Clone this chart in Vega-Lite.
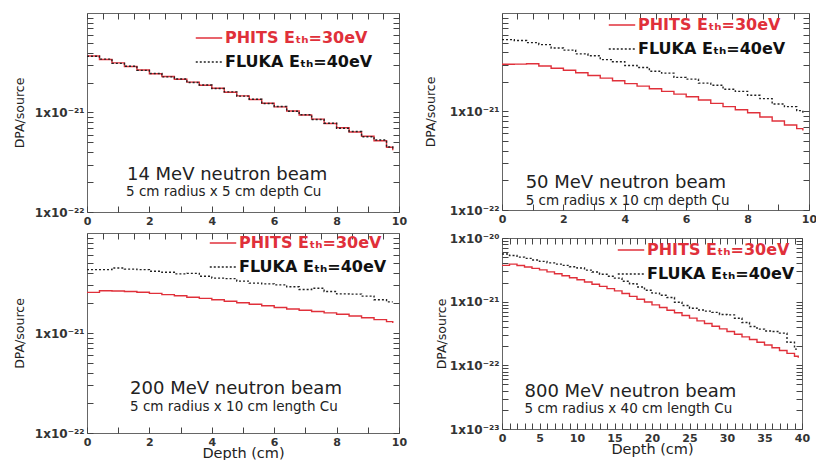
{
  "$schema": "https://vega.github.io/schema/vega-lite/v6.json",
  "padding": {"left": 12, "top": 10, "right": 0, "bottom": 0},
  "background": "white",
  "config": {
    "font": "DejaVu Sans",
    "view": {"stroke": "#666", "strokeWidth": 1},
    "axis": {"domain": false, "grid": false, "tickColor": "#444", "tickWidth": 1, "tickSize": 6, "offset": -6, "labelPadding": 3, "labelColor": "#333", "labelFont": "DejaVu Sans", "labelFontWeight": "bold", "labelFontSize": 11, "labelFlush": false, "labelOverlap": false, "titleFont": "DejaVu Sans", "titleFontWeight": "normal", "titleColor": "#222"},
    "legend": {"orient": "none", "symbolType": "stroke", "symbolSize": 700, "symbolStrokeWidth": 1.5, "labelFont": "DejaVu Sans", "labelFontSize": 16, "labelFontWeight": "bold", "labelOffset": 2, "rowPadding": 2, "padding": 0},
    "text": {"font": "DejaVu Sans", "color": "#222"}
  },
  "datasets": {
    "p14": [
      {"series": "PHITS", "depth": 0, "dpa": 3.70e-21}, {"series": "PHITS", "depth": 0.4, "dpa": 3.41e-21}, {"series": "PHITS", "depth": 0.8, "dpa": 3.15e-21}, {"series": "PHITS", "depth": 1.2, "dpa": 2.90e-21}, {"series": "PHITS", "depth": 1.6, "dpa": 2.67e-21}, {"series": "PHITS", "depth": 2.0, "dpa": 2.45e-21}, {"series": "PHITS", "depth": 2.4, "dpa": 2.30e-21}, {"series": "PHITS", "depth": 2.8, "dpa": 2.16e-21}, {"series": "PHITS", "depth": 3.2, "dpa": 2.02e-21}, {"series": "PHITS", "depth": 3.6, "dpa": 1.88e-21}, {"series": "PHITS", "depth": 4.0, "dpa": 1.75e-21}, {"series": "PHITS", "depth": 4.4, "dpa": 1.60e-21}, {"series": "PHITS", "depth": 4.8, "dpa": 1.47e-21}, {"series": "PHITS", "depth": 5.2, "dpa": 1.35e-21}, {"series": "PHITS", "depth": 5.6, "dpa": 1.24e-21}, {"series": "PHITS", "depth": 6.0, "dpa": 1.14e-21}, {"series": "PHITS", "depth": 6.4, "dpa": 1.035e-21}, {"series": "PHITS", "depth": 6.8, "dpa": 9.44e-22}, {"series": "PHITS", "depth": 7.2, "dpa": 8.57e-22}, {"series": "PHITS", "depth": 7.6, "dpa": 7.76e-22}, {"series": "PHITS", "depth": 8.0, "dpa": 7.03e-22}, {"series": "PHITS", "depth": 8.4, "dpa": 6.37e-22}, {"series": "PHITS", "depth": 8.8, "dpa": 5.77e-22}, {"series": "PHITS", "depth": 9.2, "dpa": 5.20e-22}, {"series": "PHITS", "depth": 9.6, "dpa": 4.47e-22}, {"series": "PHITS", "depth": 9.8, "dpa": 4.17e-22},
      {"series": "FLUKA", "depth": 0, "dpa": 3.68e-21}, {"series": "FLUKA", "depth": 0.4, "dpa": 3.44e-21}, {"series": "FLUKA", "depth": 0.8, "dpa": 3.12e-21}, {"series": "FLUKA", "depth": 1.2, "dpa": 2.92e-21}, {"series": "FLUKA", "depth": 1.6, "dpa": 2.65e-21}, {"series": "FLUKA", "depth": 2.0, "dpa": 2.47e-21}, {"series": "FLUKA", "depth": 2.4, "dpa": 2.28e-21}, {"series": "FLUKA", "depth": 2.8, "dpa": 2.17e-21}, {"series": "FLUKA", "depth": 3.2, "dpa": 2.00e-21}, {"series": "FLUKA", "depth": 3.6, "dpa": 1.89e-21}, {"series": "FLUKA", "depth": 4.0, "dpa": 1.74e-21}, {"series": "FLUKA", "depth": 4.4, "dpa": 1.61e-21}, {"series": "FLUKA", "depth": 4.8, "dpa": 1.46e-21}, {"series": "FLUKA", "depth": 5.2, "dpa": 1.36e-21}, {"series": "FLUKA", "depth": 5.6, "dpa": 1.23e-21}, {"series": "FLUKA", "depth": 6.0, "dpa": 1.15e-21}, {"series": "FLUKA", "depth": 6.4, "dpa": 1.03e-21}, {"series": "FLUKA", "depth": 6.8, "dpa": 9.5e-22}, {"series": "FLUKA", "depth": 7.2, "dpa": 8.5e-22}, {"series": "FLUKA", "depth": 7.6, "dpa": 7.8e-22}, {"series": "FLUKA", "depth": 8.0, "dpa": 6.95e-22}, {"series": "FLUKA", "depth": 8.4, "dpa": 6.45e-22}, {"series": "FLUKA", "depth": 8.8, "dpa": 5.7e-22}, {"series": "FLUKA", "depth": 9.2, "dpa": 5.3e-22}, {"series": "FLUKA", "depth": 9.6, "dpa": 4.5e-22}, {"series": "FLUKA", "depth": 9.8, "dpa": 4.25e-22}
    ],
    "p50": [
      {"series": "PHITS", "depth": 0, "dpa": 3.02e-21}, {"series": "PHITS", "depth": 0.4, "dpa": 3.03e-21}, {"series": "PHITS", "depth": 0.8, "dpa": 3.05e-21}, {"series": "PHITS", "depth": 1.2, "dpa": 2.90e-21}, {"series": "PHITS", "depth": 1.6, "dpa": 2.75e-21}, {"series": "PHITS", "depth": 2.0, "dpa": 2.62e-21}, {"series": "PHITS", "depth": 2.4, "dpa": 2.47e-21}, {"series": "PHITS", "depth": 2.8, "dpa": 2.32e-21}, {"series": "PHITS", "depth": 3.2, "dpa": 2.18e-21}, {"series": "PHITS", "depth": 3.6, "dpa": 2.05e-21}, {"series": "PHITS", "depth": 4.0, "dpa": 1.92e-21}, {"series": "PHITS", "depth": 4.4, "dpa": 1.81e-21}, {"series": "PHITS", "depth": 4.8, "dpa": 1.70e-21}, {"series": "PHITS", "depth": 5.2, "dpa": 1.60e-21}, {"series": "PHITS", "depth": 5.6, "dpa": 1.50e-21}, {"series": "PHITS", "depth": 6.0, "dpa": 1.41e-21}, {"series": "PHITS", "depth": 6.4, "dpa": 1.31e-21}, {"series": "PHITS", "depth": 6.8, "dpa": 1.21e-21}, {"series": "PHITS", "depth": 7.2, "dpa": 1.12e-21}, {"series": "PHITS", "depth": 7.6, "dpa": 1.04e-21}, {"series": "PHITS", "depth": 8.0, "dpa": 9.7e-22}, {"series": "PHITS", "depth": 8.4, "dpa": 8.8e-22}, {"series": "PHITS", "depth": 8.8, "dpa": 8.0e-22}, {"series": "PHITS", "depth": 9.2, "dpa": 7.3e-22}, {"series": "PHITS", "depth": 9.6, "dpa": 6.7e-22}, {"series": "PHITS", "depth": 9.8, "dpa": 6.4e-22},
      {"series": "FLUKA", "depth": 0, "dpa": 5.37e-21}, {"series": "FLUKA", "depth": 0.4, "dpa": 5.25e-21}, {"series": "FLUKA", "depth": 0.8, "dpa": 5.0e-21}, {"series": "FLUKA", "depth": 1.2, "dpa": 4.78e-21}, {"series": "FLUKA", "depth": 1.6, "dpa": 4.42e-21}, {"series": "FLUKA", "depth": 2.0, "dpa": 4.2e-21}, {"series": "FLUKA", "depth": 2.4, "dpa": 3.85e-21}, {"series": "FLUKA", "depth": 2.8, "dpa": 3.68e-21}, {"series": "FLUKA", "depth": 3.2, "dpa": 3.36e-21}, {"series": "FLUKA", "depth": 3.6, "dpa": 3.2e-21}, {"series": "FLUKA", "depth": 4.0, "dpa": 2.93e-21}, {"series": "FLUKA", "depth": 4.4, "dpa": 2.8e-21}, {"series": "FLUKA", "depth": 4.8, "dpa": 2.56e-21}, {"series": "FLUKA", "depth": 5.2, "dpa": 2.45e-21}, {"series": "FLUKA", "depth": 5.6, "dpa": 2.22e-21}, {"series": "FLUKA", "depth": 6.0, "dpa": 2.13e-21}, {"series": "FLUKA", "depth": 6.4, "dpa": 1.94e-21}, {"series": "FLUKA", "depth": 6.8, "dpa": 1.85e-21}, {"series": "FLUKA", "depth": 7.2, "dpa": 1.68e-21}, {"series": "FLUKA", "depth": 7.6, "dpa": 1.6e-21}, {"series": "FLUKA", "depth": 8.0, "dpa": 1.46e-21}, {"series": "FLUKA", "depth": 8.4, "dpa": 1.35e-21}, {"series": "FLUKA", "depth": 8.8, "dpa": 1.19e-21}, {"series": "FLUKA", "depth": 9.2, "dpa": 1.12e-21}, {"series": "FLUKA", "depth": 9.6, "dpa": 1.02e-21}, {"series": "FLUKA", "depth": 9.8, "dpa": 9.5e-22}
    ],
    "p200": [
      {"series": "PHITS", "depth": 0, "dpa": 2.55e-21}, {"series": "PHITS", "depth": 0.4, "dpa": 2.65e-21}, {"series": "PHITS", "depth": 0.8, "dpa": 2.63e-21}, {"series": "PHITS", "depth": 1.2, "dpa": 2.6e-21}, {"series": "PHITS", "depth": 1.6, "dpa": 2.56e-21}, {"series": "PHITS", "depth": 2.0, "dpa": 2.49e-21}, {"series": "PHITS", "depth": 2.4, "dpa": 2.42e-21}, {"series": "PHITS", "depth": 2.8, "dpa": 2.36e-21}, {"series": "PHITS", "depth": 3.2, "dpa": 2.28e-21}, {"series": "PHITS", "depth": 3.6, "dpa": 2.22e-21}, {"series": "PHITS", "depth": 4.0, "dpa": 2.15e-21}, {"series": "PHITS", "depth": 4.4, "dpa": 2.08e-21}, {"series": "PHITS", "depth": 4.8, "dpa": 2.01e-21}, {"series": "PHITS", "depth": 5.2, "dpa": 1.94e-21}, {"series": "PHITS", "depth": 5.6, "dpa": 1.87e-21}, {"series": "PHITS", "depth": 6.0, "dpa": 1.80e-21}, {"series": "PHITS", "depth": 6.4, "dpa": 1.74e-21}, {"series": "PHITS", "depth": 6.8, "dpa": 1.69e-21}, {"series": "PHITS", "depth": 7.2, "dpa": 1.64e-21}, {"series": "PHITS", "depth": 7.6, "dpa": 1.59e-21}, {"series": "PHITS", "depth": 8.0, "dpa": 1.54e-21}, {"series": "PHITS", "depth": 8.4, "dpa": 1.48e-21}, {"series": "PHITS", "depth": 8.8, "dpa": 1.42e-21}, {"series": "PHITS", "depth": 9.2, "dpa": 1.36e-21}, {"series": "PHITS", "depth": 9.6, "dpa": 1.30e-21}, {"series": "PHITS", "depth": 9.8, "dpa": 1.26e-21},
      {"series": "FLUKA", "depth": 0, "dpa": 4.3e-21}, {"series": "FLUKA", "depth": 0.4, "dpa": 4.3e-21}, {"series": "FLUKA", "depth": 0.8, "dpa": 4.47e-21}, {"series": "FLUKA", "depth": 1.2, "dpa": 4.35e-21}, {"series": "FLUKA", "depth": 1.6, "dpa": 4.3e-21}, {"series": "FLUKA", "depth": 2.0, "dpa": 4.14e-21}, {"series": "FLUKA", "depth": 2.4, "dpa": 4.05e-21}, {"series": "FLUKA", "depth": 2.8, "dpa": 3.9e-21}, {"series": "FLUKA", "depth": 3.2, "dpa": 3.95e-21}, {"series": "FLUKA", "depth": 3.6, "dpa": 3.7e-21}, {"series": "FLUKA", "depth": 4.0, "dpa": 3.54e-21}, {"series": "FLUKA", "depth": 4.4, "dpa": 3.5e-21}, {"series": "FLUKA", "depth": 4.8, "dpa": 3.3e-21}, {"series": "FLUKA", "depth": 5.2, "dpa": 3.15e-21}, {"series": "FLUKA", "depth": 5.6, "dpa": 3.1e-21}, {"series": "FLUKA", "depth": 6.0, "dpa": 3.03e-21}, {"series": "FLUKA", "depth": 6.4, "dpa": 2.9e-21}, {"series": "FLUKA", "depth": 6.8, "dpa": 2.72e-21}, {"series": "FLUKA", "depth": 7.2, "dpa": 2.8e-21}, {"series": "FLUKA", "depth": 7.6, "dpa": 2.6e-21}, {"series": "FLUKA", "depth": 8.0, "dpa": 2.46e-21}, {"series": "FLUKA", "depth": 8.4, "dpa": 2.45e-21}, {"series": "FLUKA", "depth": 8.8, "dpa": 2.34e-21}, {"series": "FLUKA", "depth": 9.2, "dpa": 2.15e-21}, {"series": "FLUKA", "depth": 9.6, "dpa": 2.05e-21}, {"series": "FLUKA", "depth": 9.8, "dpa": 2.05e-21}
    ],
    "p800": [
      {"series": "PHITS", "depth": 0, "dpa": 3.72e-21}, {"series": "PHITS", "depth": 1, "dpa": 3.89e-21}, {"series": "PHITS", "depth": 2, "dpa": 3.69e-21}, {"series": "PHITS", "depth": 3, "dpa": 3.51e-21}, {"series": "PHITS", "depth": 4, "dpa": 3.33e-21}, {"series": "PHITS", "depth": 5, "dpa": 3.16e-21}, {"series": "PHITS", "depth": 6, "dpa": 2.94e-21}, {"series": "PHITS", "depth": 7, "dpa": 2.74e-21}, {"series": "PHITS", "depth": 8, "dpa": 2.55e-21}, {"series": "PHITS", "depth": 9, "dpa": 2.37e-21}, {"series": "PHITS", "depth": 10, "dpa": 2.21e-21}, {"series": "PHITS", "depth": 11, "dpa": 2.04e-21}, {"series": "PHITS", "depth": 12, "dpa": 1.88e-21}, {"series": "PHITS", "depth": 13, "dpa": 1.74e-21}, {"series": "PHITS", "depth": 14, "dpa": 1.60e-21}, {"series": "PHITS", "depth": 15, "dpa": 1.48e-21}, {"series": "PHITS", "depth": 16, "dpa": 1.34e-21}, {"series": "PHITS", "depth": 17, "dpa": 1.21e-21}, {"series": "PHITS", "depth": 18, "dpa": 1.09e-21}, {"series": "PHITS", "depth": 19, "dpa": 9.86e-22}, {"series": "PHITS", "depth": 20, "dpa": 8.91e-22}, {"series": "PHITS", "depth": 21, "dpa": 8.09e-22}, {"series": "PHITS", "depth": 22, "dpa": 7.35e-22}, {"series": "PHITS", "depth": 23, "dpa": 6.68e-22}, {"series": "PHITS", "depth": 24, "dpa": 6.07e-22}, {"series": "PHITS", "depth": 25, "dpa": 5.51e-22}, {"series": "PHITS", "depth": 26, "dpa": 5.0e-22}, {"series": "PHITS", "depth": 27, "dpa": 4.54e-22}, {"series": "PHITS", "depth": 28, "dpa": 4.12e-22}, {"series": "PHITS", "depth": 29, "dpa": 3.74e-22}, {"series": "PHITS", "depth": 30, "dpa": 3.40e-22}, {"series": "PHITS", "depth": 31, "dpa": 3.08e-22}, {"series": "PHITS", "depth": 32, "dpa": 2.80e-22}, {"series": "PHITS", "depth": 33, "dpa": 2.54e-22}, {"series": "PHITS", "depth": 34, "dpa": 2.31e-22}, {"series": "PHITS", "depth": 35, "dpa": 2.09e-22}, {"series": "PHITS", "depth": 36, "dpa": 1.89e-22}, {"series": "PHITS", "depth": 37, "dpa": 1.71e-22}, {"series": "PHITS", "depth": 38, "dpa": 1.54e-22}, {"series": "PHITS", "depth": 39, "dpa": 1.39e-22}, {"series": "PHITS", "depth": 39.5, "dpa": 1.32e-22},
      {"series": "FLUKA", "depth": 0, "dpa": 5.6e-21}, {"series": "FLUKA", "depth": 1, "dpa": 5.31e-21}, {"series": "FLUKA", "depth": 2, "dpa": 5.0e-21}, {"series": "FLUKA", "depth": 3, "dpa": 4.79e-21}, {"series": "FLUKA", "depth": 4, "dpa": 4.52e-21}, {"series": "FLUKA", "depth": 5, "dpa": 4.29e-21}, {"series": "FLUKA", "depth": 6, "dpa": 4.07e-21}, {"series": "FLUKA", "depth": 7, "dpa": 3.89e-21}, {"series": "FLUKA", "depth": 8, "dpa": 3.72e-21}, {"series": "FLUKA", "depth": 9, "dpa": 3.53e-21}, {"series": "FLUKA", "depth": 10, "dpa": 3.37e-21}, {"series": "FLUKA", "depth": 11, "dpa": 3.13e-21}, {"series": "FLUKA", "depth": 12, "dpa": 2.92e-21}, {"series": "FLUKA", "depth": 13, "dpa": 2.69e-21}, {"series": "FLUKA", "depth": 14, "dpa": 2.51e-21}, {"series": "FLUKA", "depth": 15, "dpa": 2.34e-21}, {"series": "FLUKA", "depth": 16, "dpa": 2.09e-21}, {"series": "FLUKA", "depth": 17, "dpa": 1.91e-21}, {"series": "FLUKA", "depth": 18, "dpa": 1.70e-21}, {"series": "FLUKA", "depth": 19, "dpa": 1.51e-21}, {"series": "FLUKA", "depth": 20, "dpa": 1.36e-21}, {"series": "FLUKA", "depth": 21, "dpa": 1.26e-21}, {"series": "FLUKA", "depth": 22, "dpa": 1.16e-21}, {"series": "FLUKA", "depth": 23, "dpa": 9.8e-22}, {"series": "FLUKA", "depth": 24, "dpa": 8.7e-22}, {"series": "FLUKA", "depth": 25, "dpa": 7.9e-22}, {"series": "FLUKA", "depth": 26, "dpa": 7.4e-22}, {"series": "FLUKA", "depth": 27, "dpa": 7.1e-22}, {"series": "FLUKA", "depth": 28, "dpa": 6.8e-22}, {"series": "FLUKA", "depth": 29, "dpa": 6.3e-22}, {"series": "FLUKA", "depth": 30, "dpa": 6.2e-22}, {"series": "FLUKA", "depth": 31, "dpa": 5.5e-22}, {"series": "FLUKA", "depth": 32, "dpa": 4.7e-22}, {"series": "FLUKA", "depth": 33, "dpa": 4.07e-22}, {"series": "FLUKA", "depth": 34, "dpa": 3.7e-22}, {"series": "FLUKA", "depth": 35, "dpa": 3.47e-22}, {"series": "FLUKA", "depth": 36, "dpa": 3.4e-22}, {"series": "FLUKA", "depth": 37, "dpa": 3.2e-22}, {"series": "FLUKA", "depth": 38, "dpa": 2.3e-22}, {"series": "FLUKA", "depth": 39, "dpa": 1.8e-22}, {"series": "FLUKA", "depth": 39.5, "dpa": 1.75e-22}
    ]
  },
  "spacing": 15,
  "resolve": {"scale": {"color": "independent", "strokeDash": "independent"}, "legend": {"color": "independent", "strokeDash": "independent"}},
  "hconcat": [
    {
      "spacing": 1,
      "resolve": {"scale": {"color": "independent", "strokeDash": "independent"}, "legend": {"color": "independent", "strokeDash": "independent"}},
      "vconcat": [
        {
          "width": 312, "height": 199,
          "resolve": {"axis": {"x": "independent", "y": "independent"}},
          "layer": [
            {
              "data": {"name": "p14"},
              "mark": {"type": "line", "interpolate": "step-after", "strokeWidth": 1.4},
              "encoding": {
                "x": {"field": "depth", "type": "quantitative", "scale": {"domain": [0, 10], "nice": false}, "axis": {"orient": "bottom", "title": null, "format": "d", "values": [0,0.5,1,1.5,2,2.5,3,3.5,4,4.5,5,5.5,6,6.5,7,7.5,8,8.5,9,9.5,10], "labelExpr": "datum.value % 2 == 0 ? datum.label : ''", "encode": {"ticks": {"update": {"y": {"signal": "datum.value % 2 == 0 ? 0 : 3"}}}}}},
                "y": {"field": "dpa", "type": "quantitative", "scale": {"type": "log", "domain": [1e-22, 1e-20], "nice": false}, "axis": {"orient": "left", "title": "DPA/source", "titleFontSize": 12.5, "titlePadding": 8, "labelFontSize": 12, "values": [1e-22,2e-22,3e-22,4e-22,5e-22,6e-22,7e-22,8e-22,9e-22,1e-21,2e-21,3e-21,4e-21,5e-21,6e-21,7e-21,8e-21,9e-21], "labelExpr": "datum.value == 1e-22 ? '1x10⁻²²' : datum.value == 1e-21 ? '1x10⁻²¹' : ''", "encode": {"ticks": {"update": {"x": {"signal": "(datum.value == 1e-22 || datum.value == 1e-21) ? 0 : -3"}}}}}},
                "color": {"field": "series", "type": "nominal", "scale": {"domain": ["PHITS", "FLUKA"], "range": ["#e0303a", "#222222"]}, "legend": {"title": null, "orient": "none", "legendX": 108, "legendY": 11, "labelExpr": "datum.value === 'PHITS' ? 'PHITS Eₜₕ=30eV' : 'FLUKA Eₜₕ=40eV'", "encode": {"labels": {"update": {"fill": {"signal": "datum.value === 'PHITS' ? '#e0303a' : '#111111'"}}}}}},
                "strokeDash": {"field": "series", "type": "nominal", "scale": {"domain": ["PHITS", "FLUKA"], "range": [[1, 0], [2, 2]]}, "legend": {"title": null, "orient": "none", "legendX": 108, "legendY": 11, "labelExpr": "datum.value === 'PHITS' ? 'PHITS Eₜₕ=30eV' : 'FLUKA Eₜₕ=40eV'", "encode": {"labels": {"update": {"fill": {"signal": "datum.value === 'PHITS' ? '#e0303a' : '#111111'"}}}}}}
              }
            },
            {
              "data": {"values": [{}]},
              "mark": {"type": "text", "align": "left", "baseline": "middle", "fontSize": 18},
              "encoding": {
                "x": {"datum": 1.28, "axis": {"orient": "top", "title": null, "labels": false, "minExtent": 0, "maxExtent": 0, "values": [0,0.5,1,1.5,2,2.5,3,3.5,4,4.5,5,5.5,6,6.5,7,7.5,8,8.5,9,9.5,10], "encode": {"ticks": {"update": {"y": {"signal": "datum.value % 2 == 0 ? 0 : -3"}}}}}},
                "y": {"datum": 2.35e-22, "axis": {"orient": "right", "title": null, "labels": false, "minExtent": 0, "maxExtent": 0, "values": [1e-22,2e-22,3e-22,4e-22,5e-22,6e-22,7e-22,8e-22,9e-22,1e-21,2e-21,3e-21,4e-21,5e-21,6e-21,7e-21,8e-21,9e-21], "encode": {"ticks": {"update": {"x": {"signal": "(datum.value == 1e-22 || datum.value == 1e-21) ? 0 : 3"}}}}}},
                "text": {"value": "14 MeV neutron beam"}
              }
            },
            {
              "data": {"values": [{}]},
              "mark": {"type": "text", "align": "left", "baseline": "middle", "fontSize": 13.5},
              "encoding": {
                "x": {"datum": 1.25, "axis": null},
                "y": {"datum": 1.6e-22, "axis": null},
                "text": {"value": "5 cm radius x 5 cm depth Cu"}
              }
            }
          ]
        },
        {
          "width": 312, "height": 200,
          "resolve": {"axis": {"x": "independent", "y": "independent"}},
          "layer": [
            {
              "data": {"name": "p200"},
              "mark": {"type": "line", "interpolate": "step-after", "strokeWidth": 1.4},
              "encoding": {
                "x": {"field": "depth", "type": "quantitative", "scale": {"domain": [0, 10], "nice": false}, "axis": {"orient": "bottom", "title": "Depth (cm)", "titleFontSize": 14.5, "titlePadding": -1, "format": "d", "values": [0,0.5,1,1.5,2,2.5,3,3.5,4,4.5,5,5.5,6,6.5,7,7.5,8,8.5,9,9.5,10], "labelExpr": "datum.value % 2 == 0 ? datum.label : ''", "encode": {"ticks": {"update": {"y": {"signal": "datum.value % 2 == 0 ? 0 : 3"}}}}}},
                "y": {"field": "dpa", "type": "quantitative", "scale": {"type": "log", "domain": [1e-22, 1e-20], "nice": false}, "axis": {"orient": "left", "title": "DPA/source", "titleFontSize": 12.5, "titlePadding": 8, "labelFontSize": 12, "values": [1e-22,2e-22,3e-22,4e-22,5e-22,6e-22,7e-22,8e-22,9e-22,1e-21,2e-21,3e-21,4e-21,5e-21,6e-21,7e-21,8e-21,9e-21], "labelExpr": "datum.value == 1e-22 ? '1x10⁻²²' : datum.value == 1e-21 ? '1x10⁻²¹' : ''", "encode": {"ticks": {"update": {"x": {"signal": "(datum.value == 1e-22 || datum.value == 1e-21) ? 0 : -3"}}}}}},
                "color": {"field": "series", "type": "nominal", "scale": {"domain": ["PHITS", "FLUKA"], "range": ["#e0303a", "#222222"]}, "legend": {"title": null, "orient": "none", "legendX": 122, "legendY": -4, "labelExpr": "datum.value === 'PHITS' ? 'PHITS Eₜₕ=30eV' : 'FLUKA Eₜₕ=40eV'", "encode": {"labels": {"update": {"fill": {"signal": "datum.value === 'PHITS' ? '#e0303a' : '#111111'"}}}}}},
                "strokeDash": {"field": "series", "type": "nominal", "scale": {"domain": ["PHITS", "FLUKA"], "range": [[1, 0], [2, 2]]}, "legend": {"title": null, "orient": "none", "legendX": 122, "legendY": -4, "labelExpr": "datum.value === 'PHITS' ? 'PHITS Eₜₕ=30eV' : 'FLUKA Eₜₕ=40eV'", "encode": {"labels": {"update": {"fill": {"signal": "datum.value === 'PHITS' ? '#e0303a' : '#111111'"}}}}}}
              }
            },
            {
              "data": {"values": [{}]},
              "mark": {"type": "text", "align": "left", "baseline": "middle", "fontSize": 18},
              "encoding": {
                "x": {"datum": 1.38, "axis": {"orient": "top", "title": null, "labels": false, "minExtent": 0, "maxExtent": 0, "values": [0,0.5,1,1.5,2,2.5,3,3.5,4,4.5,5,5.5,6,6.5,7,7.5,8,8.5,9,9.5,10], "encode": {"ticks": {"update": {"y": {"signal": "datum.value % 2 == 0 ? 0 : -3"}}}}}},
                "y": {"datum": 2.75e-22, "axis": {"orient": "right", "title": null, "labels": false, "minExtent": 0, "maxExtent": 0, "values": [1e-22,2e-22,3e-22,4e-22,5e-22,6e-22,7e-22,8e-22,9e-22,1e-21,2e-21,3e-21,4e-21,5e-21,6e-21,7e-21,8e-21,9e-21], "encode": {"ticks": {"update": {"x": {"signal": "(datum.value == 1e-22 || datum.value == 1e-21) ? 0 : 3"}}}}}},
                "text": {"value": "200 MeV neutron beam"}
              }
            },
            {
              "data": {"values": [{}]},
              "mark": {"type": "text", "align": "left", "baseline": "middle", "fontSize": 13.5},
              "encoding": {
                "x": {"datum": 1.38, "axis": null},
                "y": {"datum": 1.84e-22, "axis": null},
                "text": {"value": "5 cm radius x 10 cm length Cu"}
              }
            }
          ]
        }
      ]
    },
    {
      "spacing": 6,
      "resolve": {"scale": {"color": "independent", "strokeDash": "independent"}, "legend": {"color": "independent", "strokeDash": "independent"}},
      "vconcat": [
        {
          "width": 307, "height": 197,
          "resolve": {"axis": {"x": "independent", "y": "independent"}},
          "layer": [
            {
              "data": {"name": "p50"},
              "mark": {"type": "line", "interpolate": "step-after", "strokeWidth": 1.4},
              "encoding": {
                "x": {"field": "depth", "type": "quantitative", "scale": {"domain": [0, 10], "nice": false}, "axis": {"orient": "bottom", "title": null, "format": "d", "values": [0,0.5,1,1.5,2,2.5,3,3.5,4,4.5,5,5.5,6,6.5,7,7.5,8,8.5,9,9.5,10], "labelExpr": "datum.value % 2 == 0 ? datum.label : ''", "encode": {"ticks": {"update": {"y": {"signal": "datum.value % 2 == 0 ? 0 : 3"}}}}}},
                "y": {"field": "dpa", "type": "quantitative", "scale": {"type": "log", "domain": [1e-22, 1e-20], "nice": false}, "axis": {"orient": "left", "title": "DPA/source", "titleFontSize": 12.5, "titlePadding": 12, "labelFontSize": 12, "values": [1e-22,2e-22,3e-22,4e-22,5e-22,6e-22,7e-22,8e-22,9e-22,1e-21,2e-21,3e-21,4e-21,5e-21,6e-21,7e-21,8e-21,9e-21], "labelExpr": "datum.value == 1e-22 ? '1x10⁻²²' : datum.value == 1e-21 ? '1x10⁻²¹' : ''", "encode": {"ticks": {"update": {"x": {"signal": "(datum.value == 1e-22 || datum.value == 1e-21) ? 0 : -3"}}}}}},
                "color": {"field": "series", "type": "nominal", "scale": {"domain": ["PHITS", "FLUKA"], "range": ["#e0303a", "#222222"]}, "legend": {"title": null, "orient": "none", "legendX": 106, "legendY": -2, "labelExpr": "datum.value === 'PHITS' ? 'PHITS Eₜₕ=30eV' : 'FLUKA Eₜₕ=40eV'", "encode": {"labels": {"update": {"fill": {"signal": "datum.value === 'PHITS' ? '#e0303a' : '#111111'"}}}}}},
                "strokeDash": {"field": "series", "type": "nominal", "scale": {"domain": ["PHITS", "FLUKA"], "range": [[1, 0], [2, 2]]}, "legend": {"title": null, "orient": "none", "legendX": 106, "legendY": -2, "labelExpr": "datum.value === 'PHITS' ? 'PHITS Eₜₕ=30eV' : 'FLUKA Eₜₕ=40eV'", "encode": {"labels": {"update": {"fill": {"signal": "datum.value === 'PHITS' ? '#e0303a' : '#111111'"}}}}}}
              }
            },
            {
              "data": {"values": [{}]},
              "mark": {"type": "text", "align": "left", "baseline": "middle", "fontSize": 18},
              "encoding": {
                "x": {"datum": 0.77, "axis": {"orient": "top", "title": null, "labels": false, "minExtent": 0, "maxExtent": 0, "values": [0,0.5,1,1.5,2,2.5,3,3.5,4,4.5,5,5.5,6,6.5,7,7.5,8,8.5,9,9.5,10], "encode": {"ticks": {"update": {"y": {"signal": "datum.value % 2 == 0 ? 0 : -3"}}}}}},
                "y": {"datum": 1.88e-22, "axis": {"orient": "right", "title": null, "labels": false, "minExtent": 0, "maxExtent": 0, "values": [1e-22,2e-22,3e-22,4e-22,5e-22,6e-22,7e-22,8e-22,9e-22,1e-21,2e-21,3e-21,4e-21,5e-21,6e-21,7e-21,8e-21,9e-21], "encode": {"ticks": {"update": {"x": {"signal": "(datum.value == 1e-22 || datum.value == 1e-21) ? 0 : 3"}}}}}},
                "text": {"value": "50 MeV neutron beam"}
              }
            },
            {
              "data": {"values": [{}]},
              "mark": {"type": "text", "align": "left", "baseline": "middle", "fontSize": 13.5},
              "encoding": {
                "x": {"datum": 0.77, "axis": null},
                "y": {"datum": 1.24e-22, "axis": null},
                "text": {"value": "5 cm radius x 10 cm depth Cu"}
              }
            }
          ]
        },
        {
          "width": 300, "height": 191,
          "resolve": {"axis": {"x": "independent", "y": "independent"}},
          "layer": [
            {
              "data": {"name": "p800"},
              "mark": {"type": "line", "interpolate": "step-after", "strokeWidth": 1.4},
              "encoding": {
                "x": {"field": "depth", "type": "quantitative", "scale": {"domain": [0, 40], "nice": false}, "axis": {"orient": "bottom", "title": "Depth (cm)", "titleFontSize": 14.5, "titlePadding": -1, "format": "d", "values": [0,1,2,3,4,5,6,7,8,9,10,11,12,13,14,15,16,17,18,19,20,21,22,23,24,25,26,27,28,29,30,31,32,33,34,35,36,37,38,39,40], "labelExpr": "datum.value % 5 == 0 ? datum.label : ''", "encode": {"ticks": {"update": {"y": {"signal": "datum.value % 5 == 0 ? 0 : 3"}}}}}},
                "y": {"field": "dpa", "type": "quantitative", "scale": {"type": "log", "domain": [1e-23, 1e-20], "nice": false}, "axis": {"orient": "left", "title": "DPA/source", "titleFontSize": 12.5, "titlePadding": 1, "labelFontSize": 12, "values": [1e-23,2e-23,3e-23,4e-23,5e-23,6e-23,7e-23,8e-23,9e-23,1e-22,2e-22,3e-22,4e-22,5e-22,6e-22,7e-22,8e-22,9e-22,1e-21,2e-21,3e-21,4e-21,5e-21,6e-21,7e-21,8e-21,9e-21,1e-20], "labelExpr": "datum.value == 1e-23 ? '1x10⁻²³' : datum.value == 1e-22 ? '1x10⁻²²' : datum.value == 1e-21 ? '1x10⁻²¹' : datum.value == 1e-20 ? '1x10⁻²⁰' : ''", "encode": {"ticks": {"update": {"x": {"signal": "(datum.value == 1e-23 || datum.value == 1e-22 || datum.value == 1e-21 || datum.value == 1e-20) ? 0 : -3"}}}}}},
                "color": {"field": "series", "type": "nominal", "scale": {"domain": ["PHITS", "FLUKA"], "range": ["#e0303a", "#222222"]}, "legend": {"title": null, "orient": "none", "legendX": 115, "legendY": -2, "labelExpr": "datum.value === 'PHITS' ? 'PHITS Eₜₕ=30eV' : 'FLUKA Eₜₕ=40eV'", "encode": {"labels": {"update": {"fill": {"signal": "datum.value === 'PHITS' ? '#e0303a' : '#111111'"}}}}}},
                "strokeDash": {"field": "series", "type": "nominal", "scale": {"domain": ["PHITS", "FLUKA"], "range": [[1, 0], [2, 2]]}, "legend": {"title": null, "orient": "none", "legendX": 115, "legendY": -2, "labelExpr": "datum.value === 'PHITS' ? 'PHITS Eₜₕ=30eV' : 'FLUKA Eₜₕ=40eV'", "encode": {"labels": {"update": {"fill": {"signal": "datum.value === 'PHITS' ? '#e0303a' : '#111111'"}}}}}}
              }
            },
            {
              "data": {"values": [{}]},
              "mark": {"type": "text", "align": "left", "baseline": "middle", "fontSize": 18},
              "encoding": {
                "x": {"datum": 3.0, "axis": {"orient": "top", "title": null, "labels": false, "minExtent": 0, "maxExtent": 0, "values": [0,1,2,3,4,5,6,7,8,9,10,11,12,13,14,15,16,17,18,19,20,21,22,23,24,25,26,27,28,29,30,31,32,33,34,35,36,37,38,39,40], "encode": {"ticks": {"update": {"y": {"signal": "datum.value % 5 == 0 ? 0 : -3"}}}}}},
                "y": {"datum": 3.85e-23, "axis": {"orient": "right", "title": null, "labels": false, "minExtent": 0, "maxExtent": 0, "values": [1e-23,2e-23,3e-23,4e-23,5e-23,6e-23,7e-23,8e-23,9e-23,1e-22,2e-22,3e-22,4e-22,5e-22,6e-22,7e-22,8e-22,9e-22,1e-21,2e-21,3e-21,4e-21,5e-21,6e-21,7e-21,8e-21,9e-21,1e-20], "encode": {"ticks": {"update": {"x": {"signal": "(datum.value == 1e-23 || datum.value == 1e-22 || datum.value == 1e-21 || datum.value == 1e-20) ? 0 : 3"}}}}}},
                "text": {"value": "800 MeV neutron beam"}
              }
            },
            {
              "data": {"values": [{}]},
              "mark": {"type": "text", "align": "left", "baseline": "middle", "fontSize": 13.5},
              "encoding": {
                "x": {"datum": 3.0, "axis": null},
                "y": {"datum": 2.04e-23, "axis": null},
                "text": {"value": "5 cm radius x 40 cm length Cu"}
              }
            }
          ]
        }
      ]
    }
  ]
}
